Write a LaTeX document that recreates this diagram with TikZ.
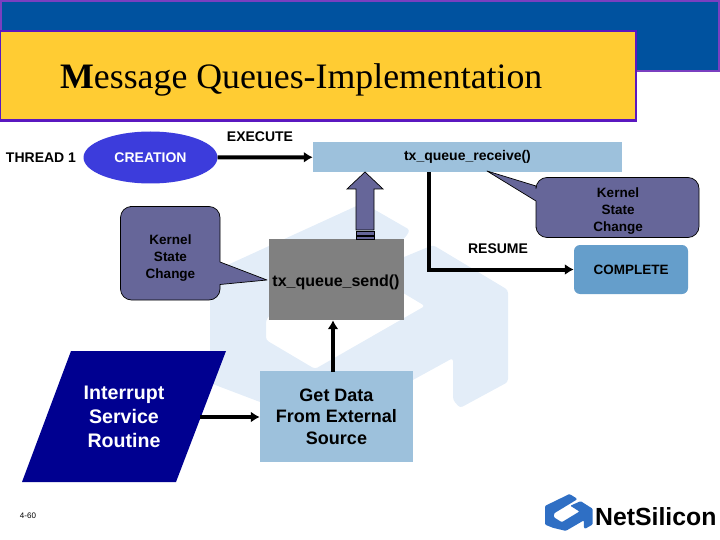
\documentclass[tikz,border=0pt]{standalone}
\usepackage{fontspec}
\usetikzlibrary{arrows.meta,shapes.geometric}
\setmainfont{Liberation Sans}
\newfontfamily\serifface{Liberation Serif}
\definecolor{topblue}{HTML}{00529F}
\definecolor{edgepurple}{HTML}{7A3FC0}
\definecolor{titlegold}{HTML}{FFCC33}
\definecolor{titleedge}{HTML}{5A18C0}
\definecolor{paleblue}{HTML}{9DC1DC}
\definecolor{creation}{HTML}{3C3CDC}
\definecolor{slate}{HTML}{666699}
\definecolor{compl}{HTML}{659ECB}
\definecolor{sendgray}{HTML}{808080}
\definecolor{isr}{HTML}{000090}
\definecolor{wm}{HTML}{E3EDF8}
\definecolor{logo}{HTML}{2F6FC4}
\newcommand{\ringshape}{(210,273) -- (363,203) -- (410,230) -- (405,238) -- (270,315) -- (266,320) -- (266,340) -- (315,369) -- (425,306) -- (368,272) -- (433,245) -- (508,290) -- (508,382) -- (460,408) -- (453,400) -- (453,358) -- (340,420) -- (260,402) -- (210,383) -- cycle}
\tikzset{
  x=1pt,y=-1pt,
  lab/.style={font=\fontsize{14}{16}\selectfont\bfseries,align=center,text=black,inner sep=0},
  small/.style={font=\fontsize{13.5}{17}\selectfont\bfseries,align=center,inner sep=0,text=black},
  conn/.style={line width=4pt,-{Latex[length=9pt,width=11pt]}},
  callout/.style={fill=slate,draw=black,line width=0.7pt,line join=round},
}
\begin{document}
\begin{tikzpicture}
\useasboundingbox (0,0) rectangle (720,540);
% watermark
\fill[wm,rounded corners=3pt] \ringshape;
% header
\fill[topblue] (0,0) rectangle (720,72);
\draw[edgepurple,line width=2pt] (1,31) -- (1,1) -- (719,1) -- (719,71) -- (630,71);
\draw[titleedge,line width=2.4pt,fill=titlegold] (0,31) rectangle (636,120.5);
\node[inner sep=0,anchor=base west,font=\fontsize{35.8}{38}\selectfont\serifface] (title) at (60,89) {\textbf{M}essage Queues-Implementation};
% thread row
\node[lab,anchor=center] (thread) at (41,158) {THREAD 1};
\node[ellipse,fill=creation,minimum width=134,minimum height=52,inner sep=0,text=white,font=\fontsize{14}{16}\selectfont\bfseries] (creation) at (150.5,157.5) {CREATION};
\node[fill=paleblue,minimum width=309,minimum height=30,inner sep=0,font=\fontsize{14}{16}\selectfont\bfseries] (recv) at (467.5,157) {\raisebox{-2pt}{tx\_queue\_receive()}};
\node[lab] (execute) at (260,137) {EXECUTE};
\draw[conn] (creation) -- (recv);
% kernel callouts
\draw[callout,rounded corners=11pt] (141,206.5) -- (220,206.5) [sharp corners] -- (220,262) -- (267,280) -- (220,284.5) [rounded corners=11pt] -- (220,300) -- (120.5,300) -- (120.5,206.5) -- cycle;
\node[small] (k1) at (170.5,258.5) {Kernel\\State\\Change};
\draw[callout,rounded corners=11pt] (536,217) -- (536,237.5) -- (699,237.5) -- (699,177.5) -- (536,177.5) [sharp corners] -- (536,186) -- (487,171) -- (536,201) [rounded corners=11pt] -- cycle;
\node[small] (k2) at (618,211) {Kernel\\State\\Change};
% up arrow
\node[fill=sendgray,minimum width=135,minimum height=81,inner sep=0] (send) at (336.5,279.5) {};
\node[anchor=center,inner sep=0,font=\fontsize{16}{18}\selectfont\bfseries] (sendt) at (336,282) {tx\_queue\_send()};
\draw[fill=slate,draw=black,line width=0.7pt] (356,230) -- (356,189) -- (347,189) -- (365,172) -- (383,189) -- (374,189) -- (374,230) -- cycle;
\draw[fill=slate,line width=0.7pt] (356.5,231) rectangle (374.5,235);
\draw[fill=slate,line width=0.7pt] (356.5,236) rectangle (374.5,239);
% resume
\node[fill=compl,rounded corners=6pt,minimum width=114,minimum height=49,inner sep=0,font=\fontsize{13.5}{16}\selectfont\bfseries] (compl) at (631,269.5) {COMPLETE};
\coordinate (bendx) at (429,269);
\coordinate (bend) at (compl.west -| bendx);
\draw[line width=4pt] (recv.south -| bend) -- ([yshift=2pt]bend);
\draw[conn] ([xshift=-2pt]bend) -- (compl.west);
\node[lab] (resume) at (498,249) {RESUME};
% ISR
\fill[isr] (71,351) -- (226,351) -- (176,482) -- (22,482) -- cycle;
\node[inner sep=0,align=center,text=white,font=\fontsize{19.6}{24}\selectfont\bfseries] (isrt) at (124,417) {Interrupt\\Service\\Routine};
\node[fill=paleblue,minimum width=153,minimum height=91,inner sep=0,align=center,font=\fontsize{18}{21.5}\selectfont\bfseries] (data) at (336.5,416.5) {Get Data\\From External\\Source};
\coordinate (isrr) at (200,417);
\draw[conn] (isrr) -- (data.west |- isrr);
\coordinate (upx) at (333,372);
\draw[conn] (upx) -- (send.south -| upx);
\node[inner sep=0,font=\fontsize{8}{9}\selectfont] (page) at (28,516) {4-60};
% logo
\begin{scope}[shift={(545,494)},x=0.16pt,y=-0.17pt]
\fill[logo,rounded corners=1pt,shift={(-210,-203)}] \ringshape;
\end{scope}
\node[inner sep=0,anchor=west,font=\fontsize{24.8}{26}\selectfont\bfseries] (logot) at (595,517) {NetSilicon};
\end{tikzpicture}
\end{document}
